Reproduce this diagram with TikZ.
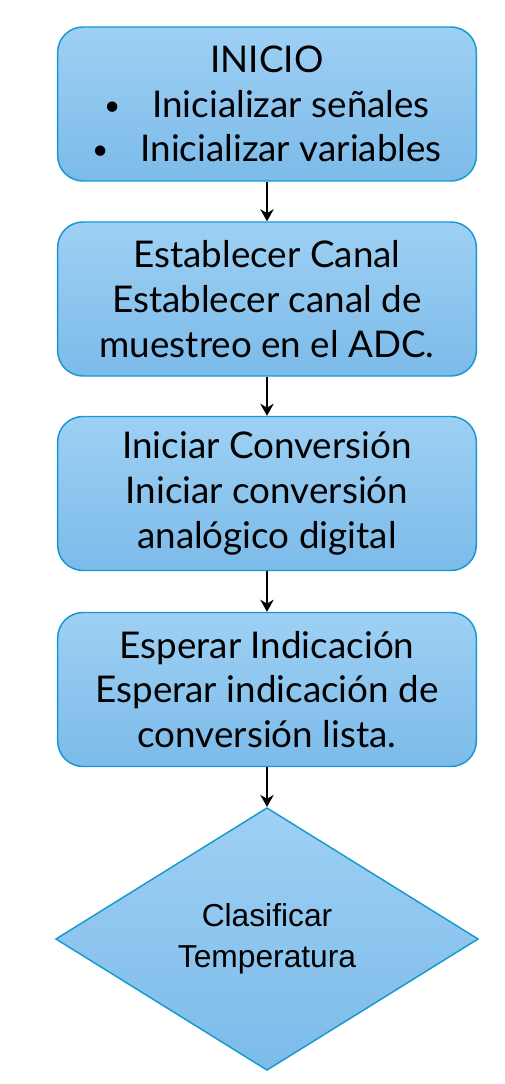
\documentclass[tikz,border=0pt]{standalone}
\usepackage{fontspec}
\setmainfont{Lato}
\newfontfamily\diamfont{Liberation Sans}
\usetikzlibrary{shapes.geometric}
\usetikzlibrary{arrows.meta}
\definecolor{boxtop}{RGB}{158,208,244}
\definecolor{boxbot}{RGB}{124,187,233}
\definecolor{boxline}{RGB}{24,152,210}
\newcommand{\smbullet}{\raisebox{1.5pt}{\fontsize{21}{21}\selectfont\textbullet}}
\tikzset{
  stepbox/.style={rectangle,rounded corners=19pt,draw=boxline,line width=1.1pt,
    top color=boxtop,bottom color=boxbot,minimum width=314pt,minimum height=115.5pt,
    align=center,inner sep=0pt,font=\fontsize{27.6}{33.6}\selectfont},
  decide/.style={diamond,draw=boxline,line width=1.1pt,top color=boxtop,bottom color=boxbot,
    minimum width=317pt,minimum height=197pt,inner sep=0pt,align=center,
    font=\diamfont\fontsize{23.8}{30.5}\selectfont},
  flow/.style={-{Stealth[length=9pt,width=10pt]},line width=1.9pt}
}
\begin{document}
\begin{tikzpicture}[x=0.75pt,y=0.75pt,yscale=-1,xscale=1]
\useasboundingbox (0,0) rectangle (505,1084);

%Shape: Rounded Rect [id:inicio]
\node (inicio) [stepbox] at (267,104) {INICIO\\
  \smbullet\hspace{24pt}Inicializar señales\\
  \smbullet\hspace{24pt}Inicializar variables};
%Shape: Rounded Rect [id:canal]
\node (canal) [stepbox] at (267,299) {Establecer Canal\\
  Establecer canal de\\ muestreo en el ADC.};
%Shape: Rounded Rect [id:conversion]
\node (conversion) [stepbox] at (267,493.5) {Iniciar Conversión\\
  Iniciar conversión\\ analógico digital};
%Shape: Rounded Rect [id:espera]
\node (espera) [stepbox] at (267,689.5) {Esperar Indicación\\
  Esperar indicación de\\ conversión lista.};
%Shape: Diamond [id:clasifica]
\node (clasifica) [decide] at (267,939) {Clasificar\\ Temperatura};

%Straight Lines
\draw [flow] (inicio) -- (canal);
\draw [flow] (canal) -- (conversion);
\draw [flow] (conversion) -- (espera);
\draw [flow] (espera) -- (clasifica);

\end{tikzpicture}
\end{document}
